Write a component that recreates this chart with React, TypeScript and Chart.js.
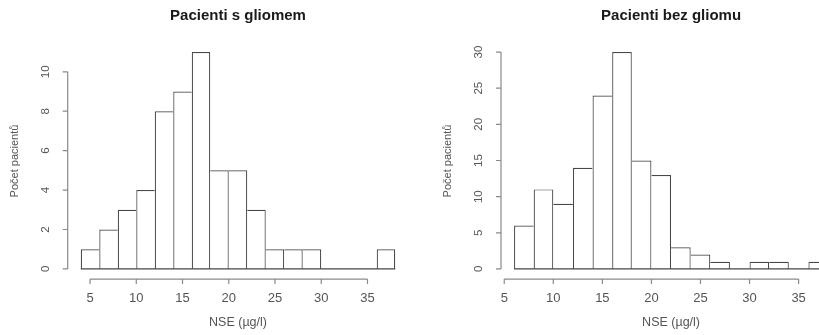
import React, { useEffect, useRef } from "react";
import { Chart, registerables } from "chart.js";

Chart.register(...registerables);

// ---- data ----
const edgesGlioma = [4, 6, 8, 10, 12, 14, 16, 18, 20, 22, 24, 26, 28, 30, 32, 34, 36, 38];
const countsGlioma = [1, 2, 3, 4, 8, 9, 11, 5, 5, 3, 1, 1, 1, 0, 0, 0, 1];
const edgesNoGlioma = [6, 8, 10, 12, 14, 16, 18, 20, 22, 24, 26, 28, 30, 32, 34, 36, 38];
const countsNoGlioma = [6, 11, 9, 14, 24, 30, 15, 13, 3, 2, 1, 0, 1, 1, 0, 1];
const xTickValues = [5, 10, 15, 20, 25, 30, 35];
const yTicksGlioma = [0, 2, 4, 6, 8, 10];
const yTicksNoGlioma = [0, 5, 10, 15, 20, 25, 30];
const titleGlioma = "Pacienti s gliomem";
const titleNoGlioma = "Pacienti bez gliomu";
const xAxisTitle = "NSE (µg/l)";
const yAxisTitle = "Počet pacientů";

const FONT = "'Liberation Sans', Arial, sans-serif";
const BAR_COLOR = "#474747";
const AXIS_COLOR = "#8a8a8a";
const TEXT_COLOR = "#555555";
const LW = 1.2;

type HistProps = {
  edges: number[];
  counts: number[];
  yTicks: number[];
  title: string;
  left: number;
  width: number;
  padding: { left: number; right: number; top: number; bottom: number };
};

function extend(a: number, b: number) {
  const d = (b - a) * 0.04;
  return [a - d, b + d];
}

function Histogram({ edges, counts, yTicks, title, left, width, padding }: HistProps) {
  const ref = useRef<HTMLCanvasElement | null>(null);
  useEffect(() => {
    if (!ref.current) return;
    const [xmin, xmax] = extend(edges[0], edges[edges.length - 1]);
    const [ymin, ymax] = extend(0, Math.max(...counts));
    const barData = counts.map((c, i) => ({ x: (edges[i] + edges[i + 1]) / 2, y: c }));
    const baseData = [
      { x: edges[0], y: 0 },
      { x: edges[edges.length - 1], y: 0 },
    ];

    const axesPlugin = {
      id: "rAxes",
      afterDraw(chart: any) {
        const ctx = chart.ctx as CanvasRenderingContext2D;
        const xs = chart.scales.x;
        const ys = chart.scales.y;
        const area = chart.chartArea;
        ctx.save();
        ctx.strokeStyle = AXIS_COLOR;
        ctx.lineWidth = 1.2;
        // x axis
        const ay = area.bottom + 1.5;
        ctx.beginPath();
        ctx.moveTo(xs.getPixelForValue(xTickValues[0]), ay);
        ctx.lineTo(xs.getPixelForValue(xTickValues[xTickValues.length - 1]), ay);
        xTickValues.forEach((v) => {
          const px = xs.getPixelForValue(v);
          ctx.moveTo(px, ay);
          ctx.lineTo(px, ay + 5);
        });
        // y axis
        const ax = area.left - 0.5;
        ctx.moveTo(ax, ys.getPixelForValue(yTicks[0]));
        ctx.lineTo(ax, ys.getPixelForValue(yTicks[yTicks.length - 1]));
        yTicks.forEach((v) => {
          const py = ys.getPixelForValue(v);
          ctx.moveTo(ax, py);
          ctx.lineTo(ax - 5, py);
        });
        ctx.stroke();

        ctx.fillStyle = TEXT_COLOR;
        ctx.textAlign = "center";
        ctx.textBaseline = "middle";
        ctx.font = `13px ${FONT}`;
        xTickValues.forEach((v) => {
          ctx.fillText(String(v), xs.getPixelForValue(v), ay + 19);
        });
        ctx.font = `11.5px ${FONT}`;
        yTicks.forEach((v) => {
          const py = ys.getPixelForValue(v);
          ctx.save();
          ctx.translate(ax - 22, py);
          ctx.rotate(-Math.PI / 2);
          ctx.fillText(String(v), 0, 0);
          ctx.restore();
        });
        // axis titles
        const cx = (area.left + area.right) / 2;
        ctx.font = `12.5px ${FONT}`;
        ctx.fillText(xAxisTitle, cx, 323);
        ctx.save();
        ctx.font = `11px ${FONT}`;
        ctx.translate(ax - 53, 161);
        ctx.rotate(-Math.PI / 2);
        ctx.fillText(yAxisTitle, 0, 0);
        ctx.restore();
        // main title
        ctx.fillStyle = "#1a1a1a";
        ctx.font = `bold 15px ${FONT}`;
        ctx.fillText(title, cx, 16);
        ctx.restore();
      },
    };

    const chart = new Chart(ref.current, {
      type: "bar",
      data: {
        datasets: [
          {
            type: "line",
            data: baseData,
            borderColor: BAR_COLOR,
            borderWidth: LW,
            pointRadius: 0,
            fill: false,
          } as any,
          {
            type: "bar",
            data: barData,
            backgroundColor: "#ffffff",
            borderColor: BAR_COLOR,
            borderSkipped: false,
            inflateAmount: 0,
            barPercentage: 1,
            categoryPercentage: 1,
            borderWidth: (c: any) => {
              const i = c.dataIndex;
              const v = counts[i];
              const prev = i > 0 ? counts[i - 1] : 0;
              const next = i < counts.length - 1 ? counts[i + 1] : 0;
              return {
                top: LW,
                bottom: 0,
                left: v > prev ? LW : 0,
                right: v >= next ? LW : 0,
              };
            },
          } as any,
        ],
      },
      options: {
        animation: false,
        responsive: false,
        devicePixelRatio: 1,
        layout: { padding },
        plugins: {
          legend: { display: false },
          tooltip: { enabled: false },
          title: { display: false },
        },
        scales: {
          x: {
            type: "linear",
            min: xmin,
            max: xmax,
            offset: false,
            display: false,
            grid: { offset: false },
            afterBuildTicks: (s: any) => {
              s.ticks = xTickValues.map((v) => ({ value: v }));
            },
          },
          y: {
            type: "linear",
            min: ymin,
            max: ymax,
            display: false,
            afterBuildTicks: (s: any) => {
              s.ticks = yTicks.map((v) => ({ value: v }));
            },
          },
        },
      } as any,
      plugins: [axesPlugin],
    });
    return () => chart.destroy();
  }, []);
  return (
    <canvas
      ref={ref}
      width={width}
      height={335}
      style={{ position: "absolute", left, top: 0, width, height: 335 }}
    />
  );
}

export default function App() {
  return (
    <div
      style={{
        position: "absolute",
        left: 0,
        top: 0,
        width: 819,
        height: 335,
        overflow: "hidden",
        background: "#ffffff",
      }}
    >
      <Histogram
        edges={edgesGlioma}
        counts={countsGlioma}
        yTicks={yTicksGlioma}
        title={titleGlioma}
        left={0}
        width={410}
        padding={{ left: 68.2, right: 2.2, top: 43.4, bottom: 57.4 }}
      />
      <Histogram
        edges={edgesNoGlioma}
        counts={countsNoGlioma}
        yTicks={yTicksNoGlioma}
        title={titleNoGlioma}
        left={410}
        width={440}
        padding={{ left: 91.5, right: 9.4, top: 43.4, bottom: 57.4 }}
      />
    </div>
  );
}
